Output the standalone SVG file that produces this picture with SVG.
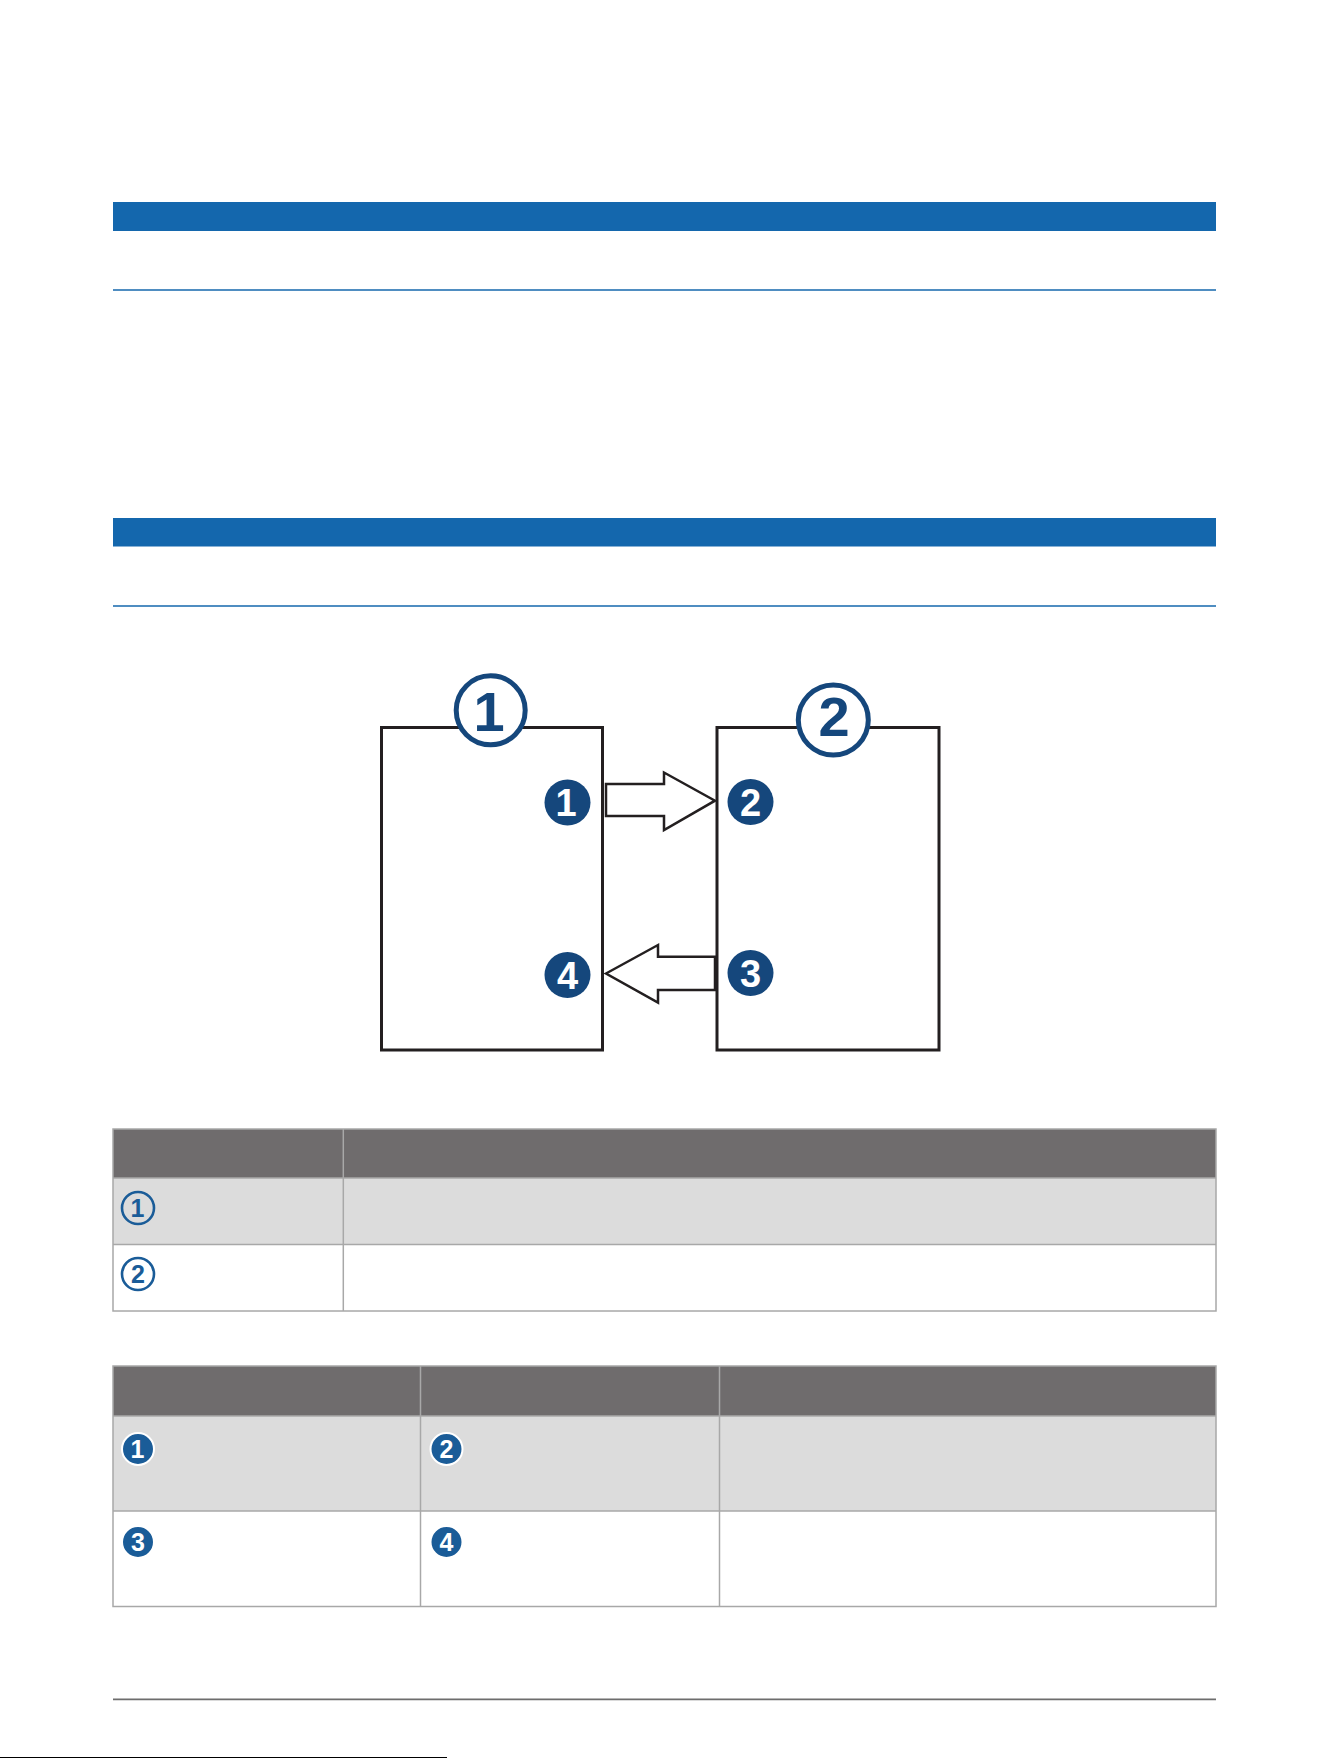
<svg xmlns="http://www.w3.org/2000/svg" width="1330" height="1758" viewBox="0 0 1330 1758">
  <style>
    .bar { fill: #1467ad; }
    .rule { stroke: #1467ad; stroke-width: 1.6; }
    .box { fill: #ffffff; stroke: #231f20; stroke-width: 3; }
    .arrow { fill: #ffffff; stroke: #231f20; stroke-width: 2.5; stroke-linejoin: miter; }
    .ring { fill: #ffffff; stroke: #15477c; stroke-width: 5; }
    .dot { fill: #15477c; }
    .bigdigit { font-family: "Liberation Sans", Arial, sans-serif; font-weight: 700; font-size: 56px; fill: #15477c; text-anchor: middle; }
    .dotdigit { font-family: "Liberation Sans", Arial, sans-serif; font-weight: 700; font-size: 38px; fill: #ffffff; text-anchor: middle; }
    .thead { fill: #6f6c6d; }
    .trow { fill: #dcdcdc; }
    .tline { stroke: #a8a8a8; stroke-width: 1.5; fill: none; }
    .tring { fill: none; stroke: #1a5c98; stroke-width: 2.6; }
    .tdot { fill: #1a5c98; stroke: #ffffff; stroke-width: 2; }
    .tdigit-o { font-family: "Liberation Sans", Arial, sans-serif; font-weight: 700; font-size: 25px; fill: #1a5c98; text-anchor: middle; }
    .tdigit-f { font-family: "Liberation Sans", Arial, sans-serif; font-weight: 700; font-size: 25px; fill: #ffffff; text-anchor: middle; }
  </style>

  <rect x="0" y="0" width="1330" height="1758" fill="#ffffff"/>

  <!-- section bars -->
  <rect class="bar" x="113" y="202" width="1103" height="29"/>
  <line class="rule" x1="113" y1="290" x2="1216" y2="290"/>
  <rect class="bar" x="113" y="518" width="1103" height="28.5"/>
  <line class="rule" x1="113" y1="606" x2="1216" y2="606"/>

  <!-- diagram nodes -->
  <g id="node-1">
    <rect class="box" x="381.5" y="727.5" width="221" height="322.5"/>
    <circle class="ring" cx="490.7" cy="710.3" r="34.5"/>
    <text class="bigdigit" x="489" y="731">1</text>
    <circle class="dot" cx="567.5" cy="802.5" r="23"/>
    <text class="dotdigit" x="566" y="816">1</text>
    <circle class="dot" cx="567.5" cy="975" r="23"/>
    <text class="dotdigit" x="567.5" y="988.5">4</text>
  </g>
  <g id="node-2">
    <rect class="box" x="717" y="727.5" width="222" height="322.5"/>
    <circle class="ring" cx="833.3" cy="720" r="35"/>
    <text class="bigdigit" x="834" y="736">2</text>
    <circle class="dot" cx="750.5" cy="802" r="23"/>
    <text class="dotdigit" x="750.5" y="815.5">2</text>
    <circle class="dot" cx="750.5" cy="973" r="23"/>
    <text class="dotdigit" x="750.5" y="986.5">3</text>
  </g>

  <!-- connectors -->
  <g id="connectors">
    <path class="arrow" d="M606 784 L664 784 L664 772.5 L715 800.7 L664 830 L664 816 L606 816 Z"/>
    <path class="arrow" d="M606 973.5 L658 945 L658 956.7 L715 956.7 L715 990 L658 990 L658 1002.7 Z"/>
  </g>

  <!-- table 1 -->
  <g id="table-1">
    <rect class="thead" x="113" y="1129" width="1103" height="49"/>
    <rect class="trow" x="113" y="1178" width="1103" height="66.5"/>
    <rect class="tline" x="113" y="1129" width="1103" height="182"/>
    <line class="tline" x1="113" y1="1178" x2="1216" y2="1178"/>
    <line class="tline" x1="113" y1="1244.5" x2="1216" y2="1244.5"/>
    <line class="tline" x1="343.3" y1="1129" x2="343.3" y2="1311"/>
    <circle class="tring" cx="138" cy="1208" r="16"/>
    <text class="tdigit-o" x="137.5" y="1217">1</text>
    <circle class="tring" cx="138" cy="1274" r="16"/>
    <text class="tdigit-o" x="138" y="1283">2</text>
  </g>

  <!-- table 2 -->
  <g id="table-2">
    <rect class="thead" x="113" y="1366" width="1103" height="50"/>
    <rect class="trow" x="113" y="1416" width="1103" height="95"/>
    <rect class="tline" x="113" y="1366" width="1103" height="240.5"/>
    <line class="tline" x1="113" y1="1416" x2="1216" y2="1416"/>
    <line class="tline" x1="113" y1="1511" x2="1216" y2="1511"/>
    <line class="tline" x1="420.5" y1="1366" x2="420.5" y2="1606.5"/>
    <line class="tline" x1="719.5" y1="1366" x2="719.5" y2="1606.5"/>
    <circle class="tdot" cx="138" cy="1449" r="16"/>
    <text class="tdigit-f" x="137.5" y="1458">1</text>
    <circle class="tdot" cx="446.5" cy="1449" r="16"/>
    <text class="tdigit-f" x="446.5" y="1458">2</text>
    <circle class="tdot" cx="138" cy="1542" r="16"/>
    <text class="tdigit-f" x="138" y="1551">3</text>
    <circle class="tdot" cx="446.5" cy="1542" r="16"/>
    <text class="tdigit-f" x="446.5" y="1551">4</text>
  </g>

  <!-- footer rule -->
  <line x1="113" y1="1699.3" x2="1216" y2="1699.3" stroke="#6d6d6d" stroke-width="1.8"/>
  <rect x="0" y="1757" width="447" height="1" fill="#000000"/>
</svg>
